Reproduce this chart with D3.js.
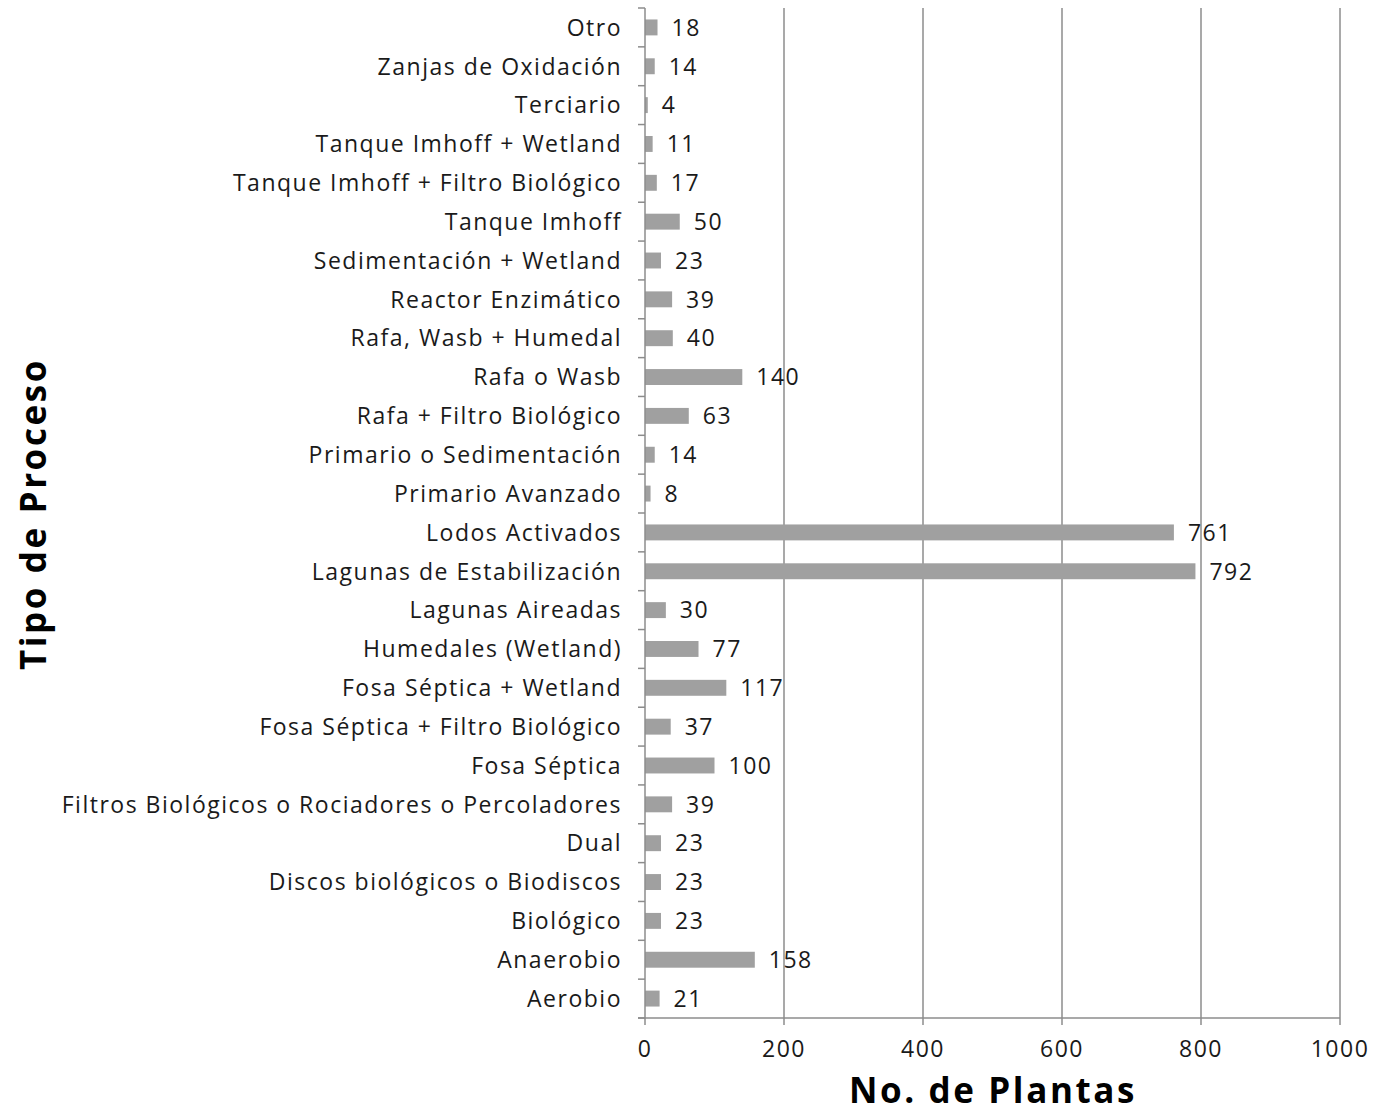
<!DOCTYPE html>
<html lang="es">
<head>
<meta charset="UTF-8">
<title>Tipo de Proceso</title>
<script src="https://cdn.jsdelivr.net/npm/d3@7"></script>
<style>
  body { margin: 0; background: #fff; }
  svg text { font-family: "Open Sans", "DejaVu Sans", sans-serif; fill: #1a1a1a; }
  .cat text, .val, .xax text { font-size: 23px; letter-spacing: 1.5px; }
  .title { font-size: 35px; font-weight: bold; fill: #000; letter-spacing: 2.6px; }
</style>
</head>
<body>
<svg id="chart"></svg>
<script>
// categorías de abajo hacia arriba
const categories = [
  "Aerobio", "Anaerobio", "Biológico", "Discos biológicos o Biodiscos", "Dual",
  "Filtros Biológicos o Rociadores o Percoladores", "Fosa Séptica",
  "Fosa Séptica + Filtro Biológico", "Fosa Séptica + Wetland", "Humedales (Wetland)",
  "Lagunas Aireadas", "Lagunas de Estabilización", "Lodos Activados",
  "Primario Avanzado", "Primario o Sedimentación", "Rafa + Filtro Biológico",
  "Rafa o Wasb", "Rafa, Wasb + Humedal", "Reactor Enzimático",
  "Sedimentación + Wetland", "Tanque Imhoff", "Tanque Imhoff + Filtro Biológico",
  "Tanque Imhoff + Wetland", "Terciario", "Zanjas de Oxidación", "Otro"
];
const plantas = [21, 158, 23, 23, 23, 39, 100, 37, 117, 77, 30, 792, 761, 8, 14, 63, 140, 40, 39, 23, 50, 17, 11, 4, 14, 18];
const xTicks = [0, 200, 400, 600, 800, 1000];

const W = 1375, H = 1113;
const plotL = 645, plotR = 1340, plotT = 8, plotB = 1018;

const svg = d3.select("#chart").attr("width", W).attr("height", H);

const x = d3.scaleLinear().domain([0, 1000]).range([plotL, plotR]);
const y = d3.scaleBand().domain(categories.slice().reverse()).range([plotT, plotB]).paddingInner(0.59).paddingOuter(0.295);

// líneas de cuadrícula
svg.append("g")
  .selectAll("line")
  .data(xTicks.filter(d => d > 0))
  .enter().append("line")
  .attr("x1", d => x(d)).attr("x2", d => x(d))
  .attr("y1", plotT).attr("y2", plotB)
  .attr("stroke", "#8c8c8c").attr("stroke-width", 1.5);

// barras
svg.append("g")
  .selectAll("rect")
  .data(categories)
  .enter().append("rect")
  .attr("x", x(0))
  .attr("y", d => y(d))
  .attr("width", (d, i) => x(plantas[i]) - x(0))
  .attr("height", y.bandwidth())
  .attr("fill", "#a0a0a0");

// etiquetas de valor
svg.append("g")
  .selectAll("text")
  .data(categories)
  .enter().append("text")
  .attr("class", "val")
  .attr("x", (d, i) => x(plantas[i]) + 14)
  .attr("y", d => y(d) + y.bandwidth() / 2)
  .attr("dy", "0.36em")
  .text((d, i) => plantas[i]);

// eje y (categorías) con marcas en los límites
const step = y.step();
const yAxis = svg.append("g").attr("class", "cat");
yAxis.append("line")
  .attr("x1", plotL).attr("x2", plotL).attr("y1", plotT).attr("y2", plotB)
  .attr("stroke", "#8c8c8c").attr("stroke-width", 1.5);
yAxis.selectAll("line.tick")
  .data(d3.range(categories.length + 1))
  .enter().append("line")
  .attr("class", "tick")
  .attr("x1", plotL - 7).attr("x2", plotL)
  .attr("y1", i => plotT + i * step).attr("y2", i => plotT + i * step)
  .attr("stroke", "#8c8c8c").attr("stroke-width", 1.5);
yAxis.selectAll("text")
  .data(categories)
  .enter().append("text")
  .attr("x", 622)
  .attr("y", d => y(d) + y.bandwidth() / 2)
  .attr("dy", "0.36em")
  .attr("text-anchor", "end")
  .text(d => d);

// eje x
const xAxis = svg.append("g").attr("class", "xax");
xAxis.append("line")
  .attr("x1", plotL - 7).attr("x2", plotR).attr("y1", plotB).attr("y2", plotB)
  .attr("stroke", "#8c8c8c").attr("stroke-width", 1.5);
xAxis.selectAll("line.tick")
  .data(xTicks)
  .enter().append("line")
  .attr("class", "tick")
  .attr("x1", d => x(d)).attr("x2", d => x(d))
  .attr("y1", plotB).attr("y2", plotB + 7)
  .attr("stroke", "#8c8c8c").attr("stroke-width", 1.5);
xAxis.selectAll("text")
  .data(xTicks)
  .enter().append("text")
  .attr("x", d => x(d))
  .attr("y", 1049)
  .attr("dy", "0.36em")
  .attr("text-anchor", "middle")
  .text(d => d);

// títulos
svg.append("text")
  .attr("class", "title")
  .attr("x", 993).attr("y", 1103)
  .attr("text-anchor", "middle")
  .text("No. de Plantas");

svg.append("text")
  .attr("class", "title")
  .attr("transform", "translate(33,514) rotate(-90)")
  .attr("dy", "0.36em")
  .attr("text-anchor", "middle")
  .text("Tipo de Proceso");
</script>
</body>
</html>
